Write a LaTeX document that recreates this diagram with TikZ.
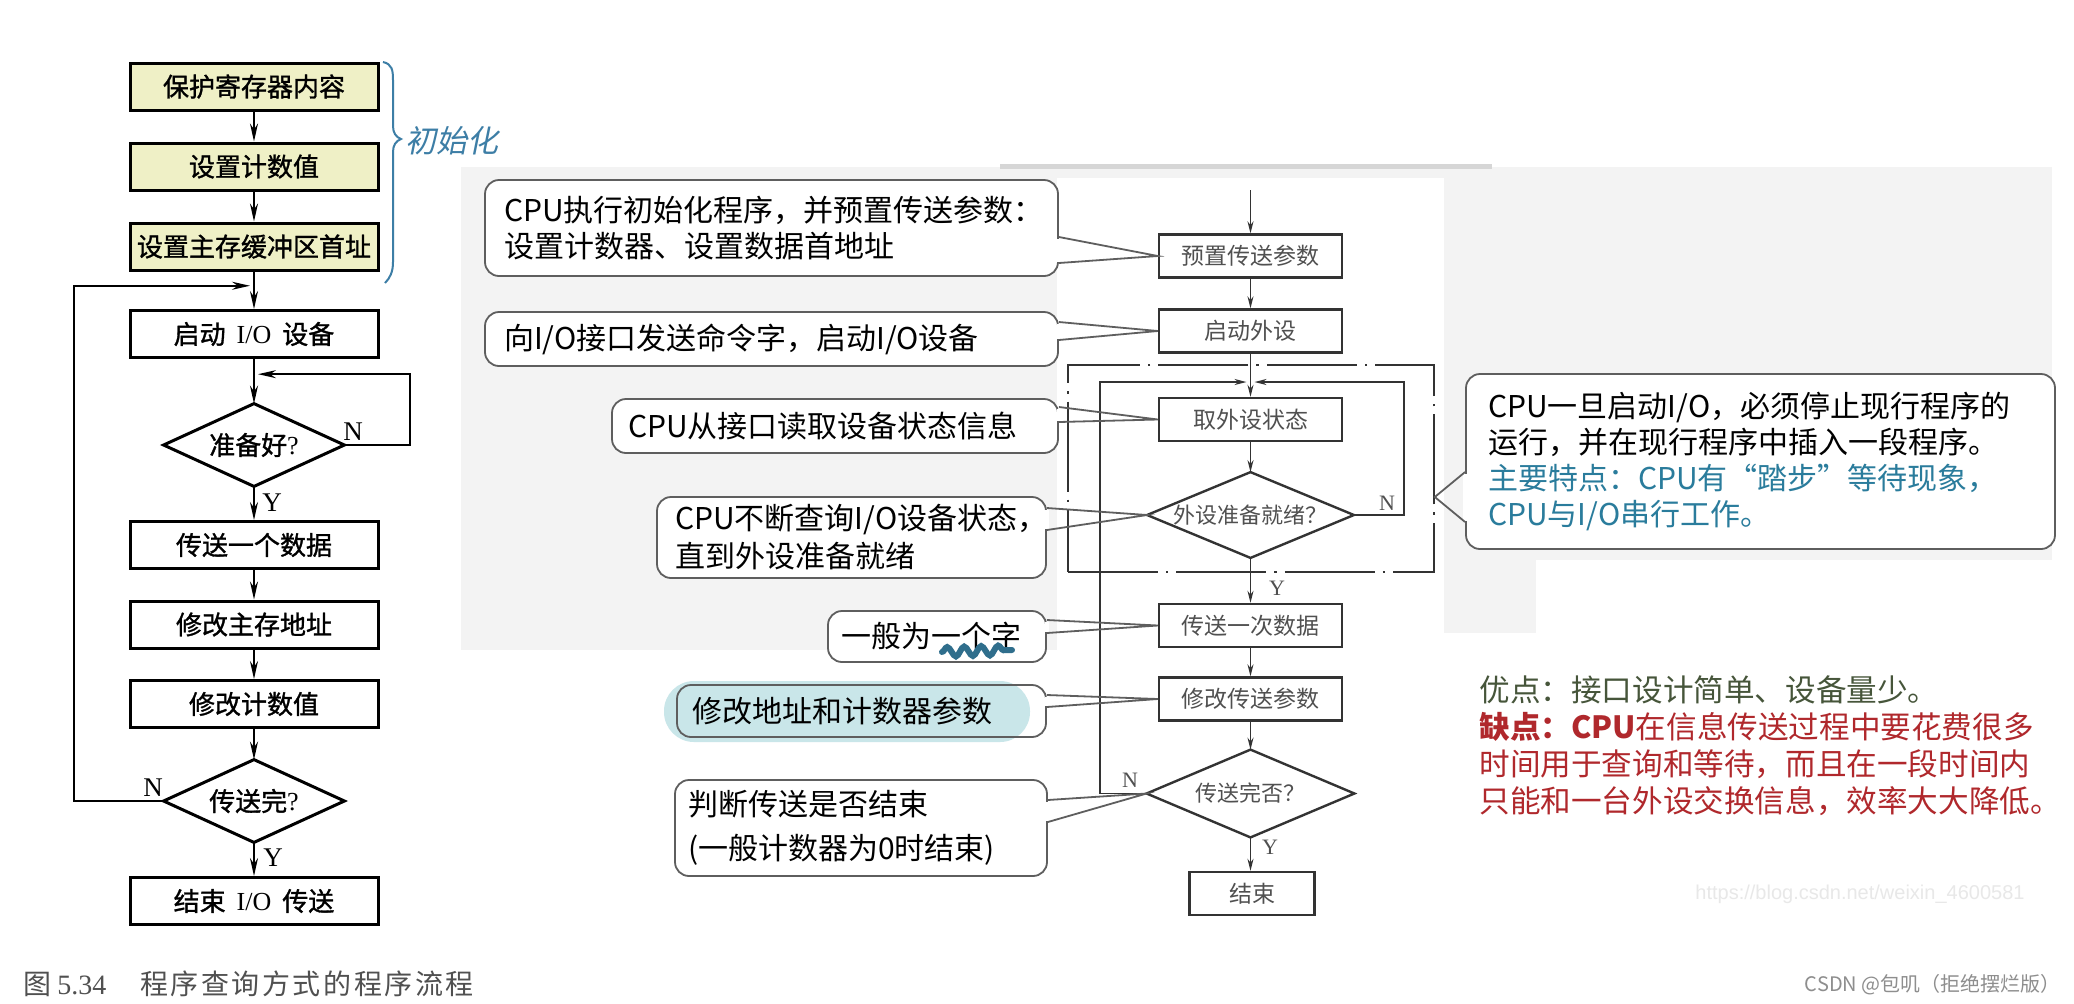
\documentclass[tikz,border=0pt]{standalone}
\usepackage{fontspec}
\setmainfont{Liberation Serif}
\newfontfamily\cjk{Noto Sans CJK SC}
\newfontfamily\cjkb[FakeBold=1.2]{Noto Sans CJK SC}
\newfontfamily\cjkhand[FakeSlant=0.2]{Noto Sans CJK SC}
\newfontfamily\cjkcap[LetterSpace=9]{Noto Sans CJK SC}
\newfontfamily\wmfont{Liberation Sans}
\usetikzlibrary{arrows.meta,calc,decorations.pathmorphing}

\definecolor{bggray}{HTML}{F3F3F3}
\definecolor{stripgray}{HTML}{D6D6D6}
\definecolor{hlyellow}{HTML}{EFF0C6}
\definecolor{handblue}{HTML}{3D7EA6}
\definecolor{rline}{HTML}{333333}
\definecolor{rtext}{HTML}{505050}
\definecolor{cbord}{HTML}{5E5E5E}
\definecolor{cteal}{HTML}{2A7C9C}
\definecolor{hlcyan}{HTML}{C9E6E9}
\definecolor{squig}{HTML}{2F6E8C}
\definecolor{prosgreen}{HTML}{46553A}
\definecolor{consred}{HTML}{B0282C}
\definecolor{capgray}{HTML}{505050}
\definecolor{markgray}{HTML}{8E8E8E}
\definecolor{urlgray}{HTML}{E8E8E8}

\tikzset{
  lbox/.style={draw=black, line width=1.5pt, minimum width=124pt, minimum height=23.5pt, inner sep=0pt, font=\fontsize{13pt}{15pt}\selectfont},
  ldt/.style={minimum width=90pt, minimum height=41pt, inner sep=0pt, font=\fontsize{13pt}{15pt}\selectfont},
  ldia/.style={draw=black, line width=1.5pt},
  lwire/.style={draw=black, line width=1pt},
  larr/.style={lwire, -{Stealth[length=9pt,width=4pt]}},
  lyn/.style={inner sep=0pt, font=\fontsize{13.5pt}{15pt}\selectfont},
  rbox/.style={draw=rline, line width=1.2pt, fill=white, minimum width=91.5pt, minimum height=21.5pt, inner sep=0pt, text=rtext, font=\cjk\fontsize{11.5pt}{13pt}\selectfont},
  rdt/.style={inner sep=0pt, text=rtext, font=\cjk\fontsize{11pt}{13pt}\selectfont},
  rdia/.style={draw=rline, line width=1.2pt},
  rwire/.style={draw=rline, line width=0.8pt},
  rarr/.style={rwire, -{Stealth[length=6pt,width=3pt]}},
  ryn/.style={inner sep=0pt, text=rtext, font=\fontsize{11pt}{13pt}\selectfont},
  callout/.style={draw=cbord, line width=0.9pt, fill=white, rounded corners=7pt, inner ysep=0pt, align=left, font=\cjk\fontsize{15pt}{18pt}\selectfont},
  cb/.style={draw=cbord, line width=0.9pt},
}
\newcommand\ptr[5]{%
  \draw[white, line width=2.4pt] (#1.#2 |- 0,#3+1.5) -- (#1.#2 |- 0,#4-1.5);
  \draw[cb] (#1.#2 |- 0,#3) -- (#5) -- (#1.#2 |- 0,#4);}

\begin{document}
\begin{tikzpicture}[x=0.5pt,y=-0.5pt]
\useasboundingbox (0,0) rectangle (2074,1003);
\fill[white] (0,0) rectangle (2074,1003);
% screenshot backgrounds
\fill[bggray] (461,167) rectangle (2052,178);
\fill[bggray] (461,167) rectangle (1057,650);
\fill[bggray] (1444,167) rectangle (2052,560);
\fill[bggray] (1444,560) rectangle (1536,633);
\fill[stripgray] (1000,164) rectangle (1492,169);

% ---------------- left flowchart ----------------
\node[lbox, fill=hlyellow] (lb1) at (254,86.5) {\cjkb 保护寄存器内容};
\node[lbox, fill=hlyellow] (lb2) at (254,166.5) {\cjkb 设置计数值};
\node[lbox, fill=hlyellow] (lb3) at (254,246.5) {\cjkb 设置主存缓冲区首址};
\node[lbox] (lb4) at (254,334) {{\cjkb 启动}\hspace{5.5pt}I/O\hspace{5.5pt}{\cjkb 设备}};
\node[ldt] (ld1) at (254,445) {{\cjkb 准备好}?};
\draw[ldia] (ld1.north) -- (ld1.east) -- (ld1.south) -- (ld1.west) -- cycle;
\node[lbox] (lb5) at (254,545) {\cjkb 传送一个数据};
\node[lbox] (lb6) at (254,624.5) {\cjkb 修改主存地址};
\node[lbox] (lb7) at (254,704) {\cjkb 修改计数值};
\node[ldt] (ld2) at (254,801) {{\cjkb 传送完}?};
\draw[ldia] (ld2.north) -- (ld2.east) -- (ld2.south) -- (ld2.west) -- cycle;
\node[lbox] (lb8) at (254,901) {{\cjkb 结束}\hspace{5.5pt}I/O\hspace{5.5pt}{\cjkb 传送}};

\draw[larr] (lb1.south) -- (lb2.north);
\draw[larr] (lb2.south) -- (lb3.north);
\draw[larr] (lb3.south) -- (lb4.north);
\draw[larr] (lb4.south) -- (ld1.north);
\draw[larr] (ld1.south) -- (lb5.north);
\draw[larr] (lb5.south) -- (lb6.north);
\draw[larr] (lb6.south) -- (lb7.north);
\draw[larr] (lb7.south) -- (ld2.north);
\draw[larr] (ld2.south) -- (lb8.north);
\coordinate (lj1) at ($(lb4.south)!0.34!(ld1.north)$);
\coordinate (lj2) at ($(lb3.south)!0.38!(lb4.north)$);
\draw[larr] (ld1.east) -- ++(66,0) |- ([xshift=2pt]lj1);
\draw[larr] (ld2.west) -| ($(lj2)+(-180,0)$) -- ([xshift=-2pt]lj2);
\node[lyn] (ln1) at (353,432) {N};
\node[lyn] (ly1) at (272,503) {Y};
\node[lyn] (ln2) at (153,788) {N};
\node[lyn] (ly2) at (273,858) {Y};

% brace + handwritten note
\draw[handblue, line width=1pt] (383,62) .. controls (392,64) and (393,70) .. (393,80) -- (393,126) .. controls (393,133) and (396,137) .. (401,139) .. controls (396,141) and (393,145) .. (393,152) -- (393,262) .. controls (393,272) and (390,278) .. (385,283);
\node[text=handblue, font=\cjkhand\fontsize{15.5pt}{17pt}\selectfont, inner sep=0pt] (init) at (452,141) {初始化};

% caption
\node[anchor=west, inner sep=0pt, text=capgray, font=\fontsize{14pt}{16pt}\selectfont] (cap) at (23,984) {{\cjkcap 图}\hspace{3pt}5.34\hspace{17pt}{\cjkcap 程序查询方式的程序流程}};

% ---------------- right flowchart ----------------
\fill[white] (1057,178) rectangle (1444,940);
\node[draw=rline, line width=0.8pt, dash pattern=on 45pt off 4pt on 1.2pt off 4pt, minimum width=183pt, minimum height=103.5pt, inner sep=0pt] (outer) at (1251,468.5) {};
\coordinate (rin) at (1250.5,190);
\node[rbox] (r1) at (1250.5,256) {预置传送参数};
\node[rbox] (r2) at (1250.5,331) {启动外设};
\node[rbox] (r3) at (1250.5,419.5) {取外设状态};
\node[rdt, minimum width=103pt, minimum height=42.5pt] (d1) at (1250.5,515) {外设准备就绪？};
\draw[rdia] (d1.north) -- (d1.east) -- (d1.south) -- (d1.west) -- cycle;
\node[rbox] (r4) at (1250.5,625.5) {传送一次数据};
\node[rbox] (r5) at (1250.5,699) {修改传送参数};
\node[rdt, minimum width=103.5pt, minimum height=43.5pt] (d2) at (1250.5,793.5) {传送完否？};
\draw[rdia] (d2.north) -- (d2.east) -- (d2.south) -- (d2.west) -- cycle;
\node[rbox, minimum width=62.5pt] (r6) at (1252,893.5) {结束};

\draw[rarr] (rin) -- (r1.north);
\draw[rarr] (r1.south) -- (r2.north);
\draw[rarr] (r2.south) -- (r3.north);
\draw[rarr] (r3.south) -- (d1.north);
\draw[rarr] (d1.south) -- (r4.north);
\draw[rarr] (r4.south) -- (r5.north);
\draw[rarr] (r5.south) -- (d2.north);
\draw[rarr] (d2.south) -- (d2.south |- r6.north);
\coordinate (rj) at (r2.south |- 0,382);
\draw[rarr] (d1.east) -- ++(50,0) |- ([xshift=2pt]rj);
\draw[rarr] (d2.west) -| ($(rj)+(-150.5,0)$) -- ([xshift=-2pt]rj);
\node[ryn] (rn1) at (1387,503) {N};
\node[ryn] (ry1) at (1277,588) {Y};
\node[ryn] (rn2) at (1130,780) {N};
\node[ryn] (ry2) at (1270,847) {Y};

% ---------------- callouts ----------------
\node[callout, minimum width=286.5pt, minimum height=48pt, text width=267.5pt, inner xsep=9.5pt] (c1) at (771.5,228)
  {CPU执行初始化程序，并预置传送参数：\\设置计数器、设置数据首地址};
\node[callout, minimum width=286.5pt, minimum height=27pt, text width=267.5pt, inner xsep=9.5pt] (c2) at (771.5,339)
  {向I/O接口发送命令字，启动I/O设备};
\node[callout, minimum width=223pt, minimum height=27pt, text width=207pt, inner xsep=8pt] (c3) at (835,426)
  {CPU从接口读取设备状态信息};
\node[callout, minimum width=194.5pt, minimum height=40.5pt, text width=176.5pt, inner xsep=9pt, font=\cjk\fontsize{15pt}{19pt}\selectfont] (c4) at (851.5,537.5)
  {CPU不断查询I/O设备状态，\\直到外设准备就绪};
\node[callout, minimum width=109pt, minimum height=25.5pt, text width=96pt, inner xsep=6.5pt] (c5) at (937,636.5)
  {一般为一个字};
\fill[white, rounded corners=7pt] (677,685) rectangle (1046,737);
\fill[hlcyan, rounded corners=15pt] (664,681) rectangle (1030,742);
\node[callout, fill=none, minimum width=184.5pt, minimum height=26pt, text width=169.5pt, inner xsep=7.5pt] (c6) at (861.5,711)
  {修改地址和计数器参数};
\node[callout, minimum width=186pt, minimum height=48pt, text width=173pt, inner xsep=6.5pt, font=\cjk\fontsize{15pt}{22pt}\selectfont] (c7) at (861,828)
  {判断传送是否结束\\(一般计数器为0时结束)};
\node[callout, minimum width=294.5pt, minimum height=87.5pt, text width=272.5pt, inner xsep=11pt] (c8) at (1760.5,461.5)
  {CPU一旦启动I/O，必须停止现行程序的\\运行，并在现行程序中插入一段程序。\\\textcolor{cteal}{主要特点：CPU有“踏步”等待现象，}\\\textcolor{cteal}{CPU与I/O串行工作。}};

\ptr{c1}{east}{237}{263}{r1.west}
\ptr{c2}{east}{322}{340}{r2.west}
\ptr{c3}{east}{407}{422}{r3.west}
\ptr{c4}{east}{508}{530}{d1.west}
\ptr{c5}{east}{620}{633}{r4.west}
\ptr{c6}{east}{695}{707}{r5.west}
\ptr{c7}{east}{800}{822}{d2.west}
\ptr{c8}{west}{472}{522}{outer.east |- 0,497}

% squiggle under the word
\draw[squig, line width=3pt, line cap=round, decorate, decoration={snake, segment length=8.5pt, amplitude=2.4pt}] (942,652) -- (1012,650);

% pros and cons
\node[anchor=west, align=left, inner sep=0pt, font=\cjk\fontsize{15.3pt}{18.5pt}\selectfont] (procon) at (1479,745.5)
  {\textcolor{prosgreen}{优点：接口设计简单、设备量少。}\\
   \textcolor{consred}{{\bfseries 缺点：CPU}在信息传送过程中要花费很多}\\
   \textcolor{consred}{时间用于查询和等待，而且在一段时间内}\\
   \textcolor{consred}{只能和一台外设交换信息，效率大大降低。}};

% marks
\node[anchor=west, inner sep=0pt, text=urlgray, font=\wmfont\fontsize{10pt}{12pt}\selectfont] (url) at (1695,894) {https://blog.csdn.net/weixin\_4600581};
\node[anchor=east, inner sep=0pt, text=markgray, font=\cjk\fontsize{10pt}{12pt}\selectfont] (mark) at (2061,985) {CSDN @包叽（拒绝摆烂版）};
\end{tikzpicture}
\end{document}
